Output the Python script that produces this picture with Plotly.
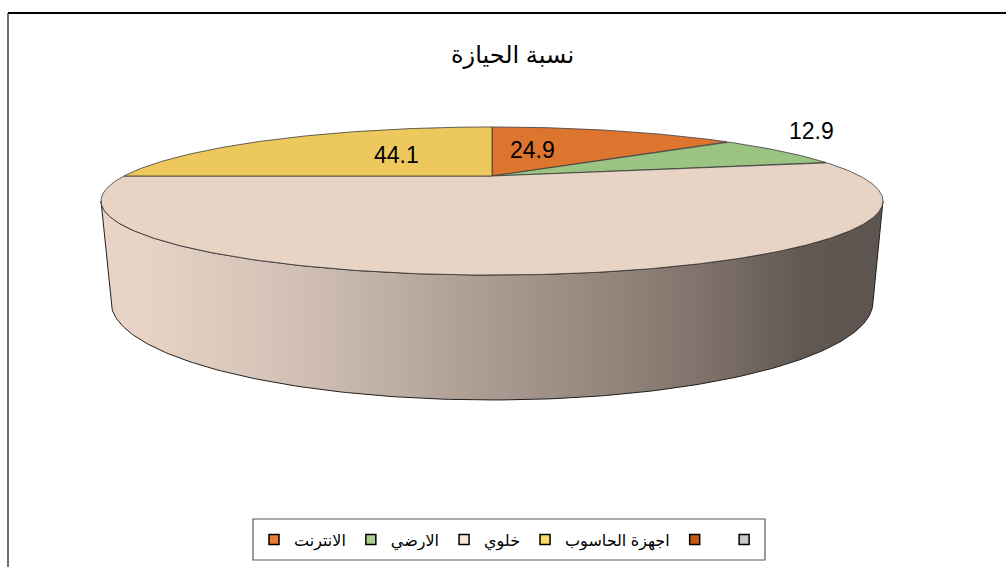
import numpy as np
import plotly.graph_objects as go

# ---------------- data ----------------
categories = ["الانترنت", "الارضي", "خلوي", "اجهزة الحاسوب", "", ""]
values = [24.9, 12.9, 94.5, 44.1, 0, 0]
show_label = [True, True, False, True, False, False]
label_outside = [False, True, False, False, False, False]
top_colors = ["#DD752E", "#9BC482", "#E8D4C5", "#EDC95D", "#C55A11", "#C9C9C9"]
legend_colors = ["#ED7D31", "#A9D18E", "#FBE5D6", "#FFD966", "#C55A11", "#C9C9C9"]
title_text = "نسبة الحيازة"

# ---------------- 3D pie geometry (perspective projection of a disc) ----------------
K = -0.3378
TOP = dict(cx=492.0, cy=176.0, a=368.0, b=65.6)
BOT = dict(cx=492.0, cy=268.9, a=358.6, b=86.8)
FONT = "Liberation Sans, Arial, DejaVu Sans, sans-serif"


def proj(theta_deg, r=1.0, g=TOP):
    t = np.radians(theta_deg)
    u = r * np.sin(t)
    v = -r * np.cos(t)
    d = 1 + K * v
    return g["cx"] + g["a"] * u / d, g["cy"] + g["b"] * v / d


fig = go.Figure()

# side wall (front half of the cylinder)
t_right = np.degrees(np.arccos(K))          # widest points of the ellipse
t_left = 360 - t_right
arc = np.linspace(t_right, t_left, 200)
xt, yt = proj(arc, g=TOP)
xb, yb = proj(arc[::-1], g=BOT)
side_x = np.concatenate([xt, xb, xt[:1]])
side_y = np.concatenate([yt, yb, yt[:1]])
fig.add_trace(go.Scatter(
    x=side_x, y=side_y, mode="lines", fill="toself",
    fillgradient=dict(type="horizontal", colorscale=[
        [0.0, "#E8D5C8"], [0.06, "#E6D3C6"], [0.25, "#D2C0B4"], [0.5, "#A99B91"],
        [0.66, "#928479"], [0.77, "#7F726B"], [0.9, "#625852"], [1.0, "#5E5550"]]),
    line=dict(color="#1F1F1F", width=1), hoverinfo="skip", showlegend=False))

# top face slices
total = float(sum(values))
start = 0.0
annotations = []
for cat, val, col, lab, outside in zip(categories, values, top_colors, show_label, label_outside):
    if val <= 0:
        continue
    sweep = 360.0 * val / total
    th = np.linspace(start, start + sweep, max(int(sweep * 2), 4))
    ax, ay = proj(th)
    cx, cy = proj(0.0, r=0.0)
    px = np.concatenate([[cx], ax, [cx]])
    py = np.concatenate([[cy], ay, [cy]])
    fig.add_trace(go.Scatter(
        x=px, y=py, mode="lines", fill="toself", fillcolor=col,
        line=dict(color="#3A3A3A", width=0.8), hoverinfo="skip", showlegend=False, name=cat))
    if lab:
        mid = start + sweep / 2
        if outside:
            lx, ly = proj(mid, r=1.0)
            annotations.append(dict(x=lx, y=ly, text=f"{val:.1f}", showarrow=False,
                                    xanchor="left", yanchor="bottom", xshift=7, yshift=5,
                                    font=dict(size=23, color="black", family=FONT)))
        else:
            lx, ly = proj(mid, r=0.5)
            annotations.append(dict(x=lx, y=ly, text=f"{val:.1f}", showarrow=False,
                                    xanchor="right" if lx > cx else "left", yanchor="middle",
                                    xshift=-4,
                                    font=dict(size=23, color="black", family=FONT)))
    start += sweep

# legend entries
for cat, col in zip(categories, legend_colors):
    fig.add_trace(go.Scatter(
        x=[None], y=[None], mode="markers", name=cat if cat else " ",
        marker=dict(symbol="square", size=10, color=col, line=dict(color="black", width=1.5)),
        showlegend=True))

annotations.append(dict(x=0.509, y=1 - 55 / 567, xref="paper", yref="paper", text=title_text,
                        showarrow=False, xanchor="center", yanchor="middle",
                        font=dict(size=24, color="black", family=FONT)))

shapes = [
    dict(type="line", xref="x", yref="y", x0=8, y0=567, x1=8, y1=13,
         line=dict(color="#6E6E6E", width=2)),
    dict(type="line", xref="x", yref="y", x0=8, y0=13, x1=1006, y1=13,
         line=dict(color="black", width=2)),
    dict(type="rect", xref="x", yref="y", x0=253, y0=519, x1=765, y1=560,
         line=dict(color="#595959", width=1.2), fillcolor="rgba(0,0,0,0)"),
]

fig.update_layout(
    width=1006, height=567, margin=dict(l=0, r=0, t=0, b=0),
    paper_bgcolor="white", plot_bgcolor="white",
    xaxis=dict(range=[0, 1006], visible=False, fixedrange=True),
    yaxis=dict(range=[567, 0], visible=False, fixedrange=True),
    showlegend=True,
    legend=dict(orientation="h", x=514 / 1006, xanchor="center", y=1 - 539.5 / 567, yanchor="middle",
                bgcolor="rgba(0,0,0,0)", borderwidth=0, font=dict(size=16, color="black", family=FONT),
                itemclick=False, itemdoubleclick=False),
    annotations=annotations, shapes=shapes,
)

fig.write_html("out.html")
